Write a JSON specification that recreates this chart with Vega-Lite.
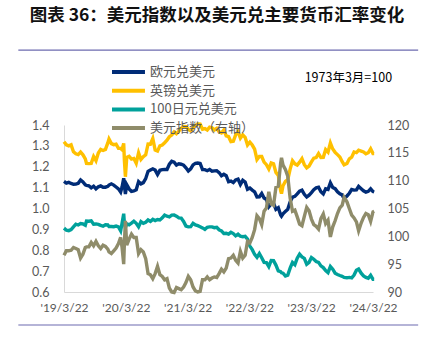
{
  "$schema": "https://vega.github.io/schema/vega-lite/v6.json",
  "width": 309,
  "height": 167,
  "autosize": {"type": "none"},
  "padding": {"left": 64, "top": 125, "right": 51, "bottom": 55},
  "background": "white",
  "title": {
    "text": "图表 36：美元指数以及美元兑主要货币汇率变化",
    "anchor": "start",
    "frame": "bounds",
    "font": "Noto Sans CJK SC",
    "fontSize": 17.5,
    "fontWeight": "bold",
    "color": "#111111",
    "offset": 25,
    "dx": 12
  },
  "config": {
    "view": {"stroke": null},
    "axis": {"labelFont": "Lato", "labelFontSize": 12.5, "labelColor": "#595959", "grid": false, "ticks": false, "title": null, "domainColor": "#D9D9D9", "labelOverlap": false}
  },
  "data": {
    "values": [
      {"d": "2019/03/22", "eur": 1.130, "gbp": 1.320, "jpy": 0.906, "dxy": 96.6},
      {"d": "2019/04/05", "eur": 1.122, "gbp": 1.305, "jpy": 0.896, "dxy": 97.4},
      {"d": "2019/04/19", "eur": 1.125, "gbp": 1.300, "jpy": 0.894, "dxy": 97.4},
      {"d": "2019/05/03", "eur": 1.120, "gbp": 1.305, "jpy": 0.899, "dxy": 97.5},
      {"d": "2019/05/17", "eur": 1.116, "gbp": 1.272, "jpy": 0.912, "dxy": 98.0},
      {"d": "2019/05/31", "eur": 1.117, "gbp": 1.262, "jpy": 0.925, "dxy": 97.8},
      {"d": "2019/06/14", "eur": 1.121, "gbp": 1.258, "jpy": 0.921, "dxy": 97.6},
      {"d": "2019/06/28", "eur": 1.137, "gbp": 1.270, "jpy": 0.928, "dxy": 96.1},
      {"d": "2019/07/12", "eur": 1.127, "gbp": 1.257, "jpy": 0.926, "dxy": 96.8},
      {"d": "2019/07/26", "eur": 1.113, "gbp": 1.238, "jpy": 0.920, "dxy": 98.0},
      {"d": "2019/08/02", "eur": 1.111, "gbp": 1.216, "jpy": 0.940, "dxy": 98.1},
      {"d": "2019/08/16", "eur": 1.109, "gbp": 1.215, "jpy": 0.939, "dxy": 98.1},
      {"d": "2019/08/30", "eur": 1.099, "gbp": 1.216, "jpy": 0.941, "dxy": 98.9},
      {"d": "2019/09/13", "eur": 1.107, "gbp": 1.249, "jpy": 0.925, "dxy": 98.3},
      {"d": "2019/09/27", "eur": 1.094, "gbp": 1.229, "jpy": 0.926, "dxy": 99.1},
      {"d": "2019/10/11", "eur": 1.104, "gbp": 1.266, "jpy": 0.924, "dxy": 98.3},
      {"d": "2019/10/25", "eur": 1.108, "gbp": 1.283, "jpy": 0.919, "dxy": 97.8},
      {"d": "2019/11/08", "eur": 1.102, "gbp": 1.278, "jpy": 0.915, "dxy": 98.4},
      {"d": "2019/11/22", "eur": 1.102, "gbp": 1.283, "jpy": 0.922, "dxy": 98.2},
      {"d": "2019/12/06", "eur": 1.106, "gbp": 1.314, "jpy": 0.921, "dxy": 97.7},
      {"d": "2019/12/13", "eur": 1.112, "gbp": 1.333, "jpy": 0.914, "dxy": 97.2},
      {"d": "2019/12/27", "eur": 1.118, "gbp": 1.311, "jpy": 0.914, "dxy": 96.9},
      {"d": "2020/01/10", "eur": 1.112, "gbp": 1.306, "jpy": 0.913, "dxy": 97.4},
      {"d": "2020/01/24", "eur": 1.103, "gbp": 1.308, "jpy": 0.916, "dxy": 97.9},
      {"d": "2020/02/07", "eur": 1.094, "gbp": 1.288, "jpy": 0.912, "dxy": 98.7},
      {"d": "2020/02/20", "eur": 1.079, "gbp": 1.288, "jpy": 0.893, "dxy": 99.8},
      {"d": "2020/02/28", "eur": 1.102, "gbp": 1.282, "jpy": 0.928, "dxy": 98.1},
      {"d": "2020/03/09", "eur": 1.145, "gbp": 1.312, "jpy": 0.975, "dxy": 95.0},
      {"d": "2020/03/13", "eur": 1.111, "gbp": 1.232, "jpy": 0.929, "dxy": 98.7},
      {"d": "2020/03/19", "eur": 1.069, "gbp": 1.152, "jpy": 0.908, "dxy": 102.8},
      {"d": "2020/03/27", "eur": 1.114, "gbp": 1.245, "jpy": 0.927, "dxy": 98.4},
      {"d": "2020/04/10", "eur": 1.094, "gbp": 1.250, "jpy": 0.922, "dxy": 99.5},
      {"d": "2020/04/24", "eur": 1.082, "gbp": 1.237, "jpy": 0.930, "dxy": 100.4},
      {"d": "2020/05/08", "eur": 1.084, "gbp": 1.240, "jpy": 0.939, "dxy": 99.8},
      {"d": "2020/05/22", "eur": 1.090, "gbp": 1.217, "jpy": 0.929, "dxy": 99.8},
      {"d": "2020/06/05", "eur": 1.129, "gbp": 1.267, "jpy": 0.912, "dxy": 96.9},
      {"d": "2020/06/19", "eur": 1.118, "gbp": 1.235, "jpy": 0.937, "dxy": 97.6},
      {"d": "2020/07/03", "eur": 1.124, "gbp": 1.248, "jpy": 0.929, "dxy": 97.2},
      {"d": "2020/07/17", "eur": 1.143, "gbp": 1.257, "jpy": 0.934, "dxy": 96.0},
      {"d": "2020/07/31", "eur": 1.178, "gbp": 1.309, "jpy": 0.945, "dxy": 93.3},
      {"d": "2020/08/14", "eur": 1.184, "gbp": 1.308, "jpy": 0.938, "dxy": 93.1},
      {"d": "2020/08/28", "eur": 1.190, "gbp": 1.335, "jpy": 0.948, "dxy": 92.4},
      {"d": "2020/09/11", "eur": 1.184, "gbp": 1.280, "jpy": 0.942, "dxy": 93.3},
      {"d": "2020/09/25", "eur": 1.163, "gbp": 1.275, "jpy": 0.947, "dxy": 94.6},
      {"d": "2020/10/09", "eur": 1.183, "gbp": 1.300, "jpy": 0.945, "dxy": 93.1},
      {"d": "2020/10/23", "eur": 1.186, "gbp": 1.304, "jpy": 0.955, "dxy": 92.8},
      {"d": "2020/11/06", "eur": 1.187, "gbp": 1.315, "jpy": 0.968, "dxy": 92.2},
      {"d": "2020/11/20", "eur": 1.187, "gbp": 1.327, "jpy": 0.963, "dxy": 92.4},
      {"d": "2020/12/04", "eur": 1.212, "gbp": 1.344, "jpy": 0.960, "dxy": 90.7},
      {"d": "2020/12/18", "eur": 1.226, "gbp": 1.352, "jpy": 0.968, "dxy": 90.0},
      {"d": "2021/01/01", "eur": 1.222, "gbp": 1.367, "jpy": 0.969, "dxy": 89.9},
      {"d": "2021/01/15", "eur": 1.208, "gbp": 1.358, "jpy": 0.963, "dxy": 90.8},
      {"d": "2021/01/29", "eur": 1.214, "gbp": 1.370, "jpy": 0.955, "dxy": 90.6},
      {"d": "2021/02/12", "eur": 1.212, "gbp": 1.385, "jpy": 0.954, "dxy": 90.4},
      {"d": "2021/02/26", "eur": 1.208, "gbp": 1.393, "jpy": 0.938, "dxy": 90.9},
      {"d": "2021/03/12", "eur": 1.195, "gbp": 1.392, "jpy": 0.916, "dxy": 91.7},
      {"d": "2021/03/26", "eur": 1.180, "gbp": 1.379, "jpy": 0.912, "dxy": 92.8},
      {"d": "2021/04/09", "eur": 1.190, "gbp": 1.372, "jpy": 0.913, "dxy": 92.2},
      {"d": "2021/04/23", "eur": 1.209, "gbp": 1.387, "jpy": 0.929, "dxy": 90.9},
      {"d": "2021/05/07", "eur": 1.216, "gbp": 1.398, "jpy": 0.921, "dxy": 90.2},
      {"d": "2021/05/21", "eur": 1.218, "gbp": 1.405, "jpy": 0.918, "dxy": 90.0},
      {"d": "2021/06/04", "eur": 1.216, "gbp": 1.404, "jpy": 0.913, "dxy": 90.1},
      {"d": "2021/06/18", "eur": 1.186, "gbp": 1.380, "jpy": 0.907, "dxy": 92.2},
      {"d": "2021/07/02", "eur": 1.186, "gbp": 1.383, "jpy": 0.900, "dxy": 92.2},
      {"d": "2021/07/16", "eur": 1.181, "gbp": 1.376, "jpy": 0.910, "dxy": 92.7},
      {"d": "2021/07/30", "eur": 1.187, "gbp": 1.390, "jpy": 0.912, "dxy": 92.2},
      {"d": "2021/08/13", "eur": 1.179, "gbp": 1.387, "jpy": 0.912, "dxy": 92.5},
      {"d": "2021/08/27", "eur": 1.180, "gbp": 1.376, "jpy": 0.908, "dxy": 92.7},
      {"d": "2021/09/10", "eur": 1.181, "gbp": 1.384, "jpy": 0.910, "dxy": 92.6},
      {"d": "2021/09/24", "eur": 1.172, "gbp": 1.367, "jpy": 0.898, "dxy": 93.3},
      {"d": "2021/10/08", "eur": 1.157, "gbp": 1.362, "jpy": 0.893, "dxy": 94.1},
      {"d": "2021/10/22", "eur": 1.164, "gbp": 1.376, "jpy": 0.880, "dxy": 93.6},
      {"d": "2021/11/05", "eur": 1.157, "gbp": 1.348, "jpy": 0.881, "dxy": 94.3},
      {"d": "2021/11/19", "eur": 1.128, "gbp": 1.344, "jpy": 0.877, "dxy": 96.0},
      {"d": "2021/12/03", "eur": 1.131, "gbp": 1.320, "jpy": 0.886, "dxy": 96.1},
      {"d": "2021/12/17", "eur": 1.124, "gbp": 1.322, "jpy": 0.880, "dxy": 96.6},
      {"d": "2021/12/31", "eur": 1.137, "gbp": 1.353, "jpy": 0.869, "dxy": 95.7},
      {"d": "2022/01/14", "eur": 1.141, "gbp": 1.368, "jpy": 0.877, "dxy": 95.2},
      {"d": "2022/01/28", "eur": 1.115, "gbp": 1.337, "jpy": 0.867, "dxy": 97.3},
      {"d": "2022/02/11", "eur": 1.135, "gbp": 1.353, "jpy": 0.865, "dxy": 96.1},
      {"d": "2022/02/25", "eur": 1.127, "gbp": 1.341, "jpy": 0.867, "dxy": 96.6},
      {"d": "2022/03/11", "eur": 1.092, "gbp": 1.304, "jpy": 0.853, "dxy": 99.1},
      {"d": "2022/03/25", "eur": 1.098, "gbp": 1.318, "jpy": 0.820, "dxy": 98.8},
      {"d": "2022/04/08", "eur": 1.088, "gbp": 1.304, "jpy": 0.803, "dxy": 99.8},
      {"d": "2022/04/22", "eur": 1.080, "gbp": 1.284, "jpy": 0.780, "dxy": 101.2},
      {"d": "2022/05/06", "eur": 1.055, "gbp": 1.234, "jpy": 0.766, "dxy": 103.7},
      {"d": "2022/05/20", "eur": 1.056, "gbp": 1.249, "jpy": 0.784, "dxy": 103.2},
      {"d": "2022/06/03", "eur": 1.072, "gbp": 1.249, "jpy": 0.764, "dxy": 102.1},
      {"d": "2022/06/17", "eur": 1.050, "gbp": 1.222, "jpy": 0.742, "dxy": 104.5},
      {"d": "2022/07/01", "eur": 1.043, "gbp": 1.210, "jpy": 0.741, "dxy": 105.1},
      {"d": "2022/07/15", "eur": 1.008, "gbp": 1.189, "jpy": 0.722, "dxy": 108.0},
      {"d": "2022/07/29", "eur": 1.022, "gbp": 1.218, "jpy": 0.751, "dxy": 105.8},
      {"d": "2022/08/12", "eur": 1.026, "gbp": 1.214, "jpy": 0.750, "dxy": 105.6},
      {"d": "2022/08/26", "eur": 0.996, "gbp": 1.173, "jpy": 0.729, "dxy": 108.8},
      {"d": "2022/09/09", "eur": 1.004, "gbp": 1.159, "jpy": 0.701, "dxy": 109.0},
      {"d": "2022/09/23", "eur": 0.969, "gbp": 1.086, "jpy": 0.697, "dxy": 113.2},
      {"d": "2022/09/28", "eur": 0.963, "gbp": 1.071, "jpy": 0.692, "dxy": 114.1},
      {"d": "2022/10/07", "eur": 0.974, "gbp": 1.109, "jpy": 0.690, "dxy": 112.8},
      {"d": "2022/10/21", "eur": 0.986, "gbp": 1.130, "jpy": 0.677, "dxy": 112.0},
      {"d": "2022/11/04", "eur": 0.996, "gbp": 1.138, "jpy": 0.681, "dxy": 110.8},
      {"d": "2022/11/18", "eur": 1.032, "gbp": 1.189, "jpy": 0.714, "dxy": 106.9},
      {"d": "2022/12/02", "eur": 1.054, "gbp": 1.229, "jpy": 0.742, "dxy": 104.5},
      {"d": "2022/12/16", "eur": 1.058, "gbp": 1.214, "jpy": 0.731, "dxy": 104.7},
      {"d": "2022/12/30", "eur": 1.070, "gbp": 1.208, "jpy": 0.762, "dxy": 103.5},
      {"d": "2023/01/13", "eur": 1.083, "gbp": 1.222, "jpy": 0.781, "dxy": 102.2},
      {"d": "2023/01/27", "eur": 1.088, "gbp": 1.239, "jpy": 0.768, "dxy": 101.9},
      {"d": "2023/02/10", "eur": 1.068, "gbp": 1.210, "jpy": 0.761, "dxy": 103.6},
      {"d": "2023/02/24", "eur": 1.055, "gbp": 1.195, "jpy": 0.733, "dxy": 105.2},
      {"d": "2023/03/10", "eur": 1.064, "gbp": 1.203, "jpy": 0.742, "dxy": 104.6},
      {"d": "2023/03/24", "eur": 1.076, "gbp": 1.223, "jpy": 0.765, "dxy": 103.1},
      {"d": "2023/04/07", "eur": 1.090, "gbp": 1.241, "jpy": 0.757, "dxy": 102.1},
      {"d": "2023/04/21", "eur": 1.099, "gbp": 1.244, "jpy": 0.746, "dxy": 101.8},
      {"d": "2023/05/05", "eur": 1.102, "gbp": 1.263, "jpy": 0.742, "dxy": 101.3},
      {"d": "2023/05/19", "eur": 1.080, "gbp": 1.244, "jpy": 0.725, "dxy": 103.2},
      {"d": "2023/06/02", "eur": 1.070, "gbp": 1.245, "jpy": 0.717, "dxy": 104.0},
      {"d": "2023/06/16", "eur": 1.094, "gbp": 1.282, "jpy": 0.703, "dxy": 102.3},
      {"d": "2023/06/30", "eur": 1.091, "gbp": 1.270, "jpy": 0.693, "dxy": 102.9},
      {"d": "2023/07/14", "eur": 1.123, "gbp": 1.314, "jpy": 0.722, "dxy": 99.9},
      {"d": "2023/07/28", "eur": 1.101, "gbp": 1.285, "jpy": 0.709, "dxy": 101.7},
      {"d": "2023/08/11", "eur": 1.095, "gbp": 1.269, "jpy": 0.690, "dxy": 102.8},
      {"d": "2023/08/25", "eur": 1.080, "gbp": 1.258, "jpy": 0.684, "dxy": 104.1},
      {"d": "2023/09/08", "eur": 1.070, "gbp": 1.247, "jpy": 0.679, "dxy": 105.1},
      {"d": "2023/09/22", "eur": 1.065, "gbp": 1.224, "jpy": 0.675, "dxy": 105.6},
      {"d": "2023/10/03", "eur": 1.047, "gbp": 1.209, "jpy": 0.670, "dxy": 107.0},
      {"d": "2023/10/20", "eur": 1.060, "gbp": 1.216, "jpy": 0.668, "dxy": 106.2},
      {"d": "2023/11/03", "eur": 1.073, "gbp": 1.238, "jpy": 0.670, "dxy": 105.0},
      {"d": "2023/11/17", "eur": 1.091, "gbp": 1.246, "jpy": 0.668, "dxy": 103.8},
      {"d": "2023/12/01", "eur": 1.088, "gbp": 1.271, "jpy": 0.681, "dxy": 103.3},
      {"d": "2023/12/15", "eur": 1.089, "gbp": 1.268, "jpy": 0.704, "dxy": 102.6},
      {"d": "2023/12/28", "eur": 1.106, "gbp": 1.279, "jpy": 0.710, "dxy": 101.0},
      {"d": "2024/01/12", "eur": 1.095, "gbp": 1.275, "jpy": 0.690, "dxy": 102.4},
      {"d": "2024/01/26", "eur": 1.085, "gbp": 1.271, "jpy": 0.677, "dxy": 103.4},
      {"d": "2024/02/09", "eur": 1.078, "gbp": 1.262, "jpy": 0.670, "dxy": 104.1},
      {"d": "2024/02/23", "eur": 1.082, "gbp": 1.267, "jpy": 0.666, "dxy": 103.9},
      {"d": "2024/03/08", "eur": 1.094, "gbp": 1.286, "jpy": 0.680, "dxy": 102.7},
      {"d": "2024/03/22", "eur": 1.081, "gbp": 1.263, "jpy": 0.661, "dxy": 104.4},
      {"d": "2024/03/29", "eur": 1.079, "gbp": 1.263, "jpy": 0.661, "dxy": 104.5}
    ]
  },
  "transform": [
    {"fold": ["eur", "gbp", "jpy", "dxy"], "as": ["series", "value"]}
  ],
  "encoding": {
    "color": {
      "field": "series",
      "type": "nominal",
      "scale": {"domain": ["eur", "gbp", "jpy", "dxy"], "range": ["#002C77", "#FFC000", "#00A19B", "#8F8C6A"]},
      "legend": {
        "orient": "none",
        "legendX": 46,
        "legendY": -62,
        "title": null,
        "symbolType": "M-1,0H3.71",
        "symbolStrokeWidth": 4,
        "symbolSize": 196,
        "labelFont": "Noto Sans CJK SC",
        "labelFontSize": 13,
        "labelColor": "#595959",
        "labelLimit": 300,
        "rowPadding": 1.7,
        "labelOffset": 22,
        "labelExpr": "datum.label == 'eur' ? '欧元兑美元' : datum.label == 'gbp' ? '英镑兑美元' : datum.label == 'jpy' ? '100日元兑美元' : '美元指数（右轴）'"
      }
    }
  },
  "layer": [
    {
      "layer": [
        {
          "transform": [{"filter": "datum.series != 'dxy'"}],
          "mark": {"type": "line", "strokeWidth": 3.4, "clip": false},
          "encoding": {
            "x": {
              "field": "d",
              "type": "temporal",
              "scale": {"domain": [{"year": 2019, "month": 3, "date": 22}, {"year": 2024, "month": 3, "date": 22}]},
              "axis": {
                "values": [
                  {"year": 2019, "month": 3, "date": 22},
                  {"year": 2020, "month": 3, "date": 22},
                  {"year": 2021, "month": 3, "date": 22},
                  {"year": 2022, "month": 3, "date": 22},
                  {"year": 2023, "month": 3, "date": 22},
                  {"year": 2024, "month": 3, "date": 22}
                ],
                "format": "'%y/%-m/%d",
                "labelPadding": 10,
                "labelFontSize": 12,
                "labelFlush": false
              }
            },
            "y": {
              "field": "value",
              "type": "quantitative",
              "scale": {"domain": [0.6, 1.4], "nice": false, "zero": false},
              "axis": {"orient": "left", "values": [0.6, 0.7, 0.8, 0.9, 1.0, 1.1, 1.2, 1.3, 1.4], "format": ".1f", "labelPadding": 15, "domain": true}
            }
          }
        },
        {
          "transform": [{"aggregate": [{"op": "count", "as": "n"}]}],
          "mark": {"type": "text", "text": "1973年3月=100", "align": "left", "baseline": "middle", "font": "Noto Sans CJK SC", "fontWeight": "normal", "fontSize": 12.5},
          "encoding": {
            "x": {
              "datum": {"year": 2023, "month": 2, "date": 12},
              "type": "temporal",
              "axis": {
                "values": [
                  {"year": 2019, "month": 3, "date": 22},
                  {"year": 2020, "month": 3, "date": 22},
                  {"year": 2021, "month": 3, "date": 22},
                  {"year": 2022, "month": 3, "date": 22},
                  {"year": 2023, "month": 3, "date": 22},
                  {"year": 2024, "month": 3, "date": 22}
                ],
                "format": "'%y/%-m/%d",
                "labelPadding": 10,
                "labelFontSize": 12,
                "labelFlush": false
              }
            },
            "y": {
              "datum": 1.625,
              "type": "quantitative",
              "axis": {"orient": "left", "values": [0.6, 0.7, 0.8, 0.9, 1.0, 1.1, 1.2, 1.3, 1.4], "format": ".1f", "labelPadding": 15, "domain": true}
            },
            "color": {"value": "#000000"}
          }
        },
        {
          "transform": [{"aggregate": [{"op": "count", "as": "n"}]}],
          "mark": {"type": "rule", "strokeWidth": 1.2},
          "encoding": {
            "x": {
              "datum": {"year": 2018, "month": 6, "date": 25},
              "type": "temporal",
              "axis": {
                "values": [
                  {"year": 2019, "month": 3, "date": 22},
                  {"year": 2020, "month": 3, "date": 22},
                  {"year": 2021, "month": 3, "date": 22},
                  {"year": 2022, "month": 3, "date": 22},
                  {"year": 2023, "month": 3, "date": 22},
                  {"year": 2024, "month": 3, "date": 22}
                ],
                "format": "'%y/%-m/%d",
                "labelPadding": 10,
                "labelFontSize": 12,
                "labelFlush": false
              }
            },
            "x2": {"datum": {"year": 2024, "month": 12, "date": 14}},
            "y": {
              "datum": 1.759,
              "type": "quantitative",
              "axis": {"orient": "left", "values": [0.6, 0.7, 0.8, 0.9, 1.0, 1.1, 1.2, 1.3, 1.4], "format": ".1f", "labelPadding": 15, "domain": true}
            },
            "color": {"value": "#6D6BAF"}
          }
        },
        {
          "transform": [{"aggregate": [{"op": "count", "as": "n"}]}],
          "mark": {"type": "rule", "strokeWidth": 1.2},
          "encoding": {
            "x": {
              "datum": {"year": 2018, "month": 6, "date": 25},
              "type": "temporal",
              "axis": {
                "values": [
                  {"year": 2019, "month": 3, "date": 22},
                  {"year": 2020, "month": 3, "date": 22},
                  {"year": 2021, "month": 3, "date": 22},
                  {"year": 2022, "month": 3, "date": 22},
                  {"year": 2023, "month": 3, "date": 22},
                  {"year": 2024, "month": 3, "date": 22}
                ],
                "format": "'%y/%-m/%d",
                "labelPadding": 10,
                "labelFontSize": 12,
                "labelFlush": false
              }
            },
            "x2": {"datum": {"year": 2024, "month": 12, "date": 14}},
            "y": {
              "datum": 0.442,
              "type": "quantitative",
              "axis": {"orient": "left", "values": [0.6, 0.7, 0.8, 0.9, 1.0, 1.1, 1.2, 1.3, 1.4], "format": ".1f", "labelPadding": 15, "domain": true}
            },
            "color": {"value": "#6D6BAF"}
          }
        }
      ]
    },
    {
      "transform": [{"filter": "datum.series == 'dxy'"}],
      "mark": {"type": "line", "strokeWidth": 3.4, "clip": false},
      "encoding": {
        "x": {
          "field": "d",
          "type": "temporal",
          "axis": {
            "values": [
              {"year": 2019, "month": 3, "date": 22},
              {"year": 2020, "month": 3, "date": 22},
              {"year": 2021, "month": 3, "date": 22},
              {"year": 2022, "month": 3, "date": 22},
              {"year": 2023, "month": 3, "date": 22},
              {"year": 2024, "month": 3, "date": 22}
            ],
            "format": "'%y/%-m/%d",
            "labelPadding": 10,
            "labelFontSize": 12,
            "labelFlush": false
          }
        },
        "y": {
          "field": "value",
          "type": "quantitative",
          "scale": {"domain": [90, 120], "nice": false, "zero": false},
          "axis": {"orient": "right", "values": [90, 95, 100, 105, 110, 115, 120], "labelPadding": 14, "domain": false}
        }
      }
    }
  ],
  "resolve": {"scale": {"y": "independent"}}
}
